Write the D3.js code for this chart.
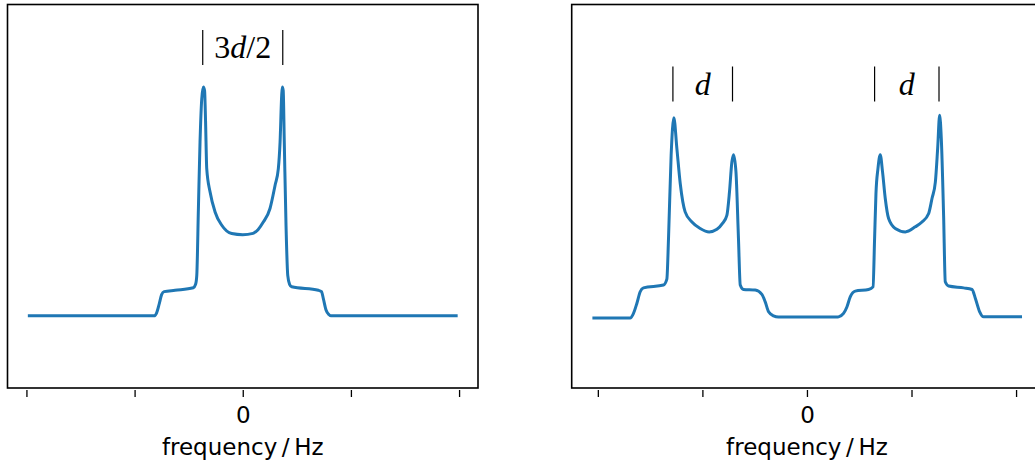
<!DOCTYPE html>
<html>
<head>
  <meta charset="utf-8">
  <title>Powder pattern spectra</title>
  <script src="https://d3js.org/d3.v7.min.js"></script>
  <style>
    body { margin: 0; background: #fff; }
    .frame { fill: none; stroke: #000; stroke-width: 1.6px; }
    .spectrum { fill: none; stroke: #1f77b4; stroke-width: 3px; stroke-linejoin: round; }
    .marker { stroke: #000; stroke-width: 1.2px; }
    .tick line { stroke: #000; stroke-width: 1.3px; }
    .tick text, .xlabel { font-family: "DejaVu Sans", sans-serif; font-size: 23px; fill: #000; }
    .math { font-family: "Liberation Serif", serif; font-size: 32px; fill: #000; }
  </style>
</head>
<body>
  <script>
    // left panel: single Pake-like doublet
    const leftFreq = [-1.987, -0.820, -0.797, -0.771, -0.750, -0.727, -0.626, -0.457, -0.436, -0.425,
      -0.410, -0.395, -0.379, -0.364, -0.353, -0.344, -0.333, -0.302, -0.256, -0.194, -0.102, 0,
      0.095, 0.141, 0.190, 0.252, 0.299, 0.329, 0.345, 0.360, 0.366, 0.374, 0.384, 0.400, 0.416,
      0.433, 0.453, 0.699, 0.728, 0.745, 0.770, 0.798, 0.816, 1.987];
    const leftIntensity = [0, 0, 0.012, 0.054, 0.092, 0.105, 0.111, 0.122, 0.137, 0.176,
      0.466, 0.754, 0.942, 0.993, 0.978, 0.848, 0.639, 0.537, 0.451, 0.393, 0.357, 0.352,
      0.358, 0.374, 0.407, 0.466, 0.567, 0.639, 0.754, 0.957, 0.993, 0.978, 0.754, 0.393, 0.176,
      0.137, 0.126, 0.111, 0.105, 0.075, 0.025, 0.005, 0, 0];

    // right panel: two split doublets
    const rightFreq = [-2.052, -1.691, -1.659, -1.627, -1.595, -1.564, -1.372, -1.340, -1.324, -1.299,
      -1.273, -1.244, -1.212, -1.165, -1.100, -1.021, -0.935, -0.861, -0.808, -0.766, -0.741,
      -0.718, -0.702, -0.679, -0.655, -0.638, -0.607, -0.495, -0.431, -0.399, -0.367, -0.320,
      -0.272, 0.287, 0.302, 0.350, 0.383, 0.414, 0.462, 0.589, 0.632, 0.647, 0.660, 0.679, 0.701,
      0.723, 0.749, 0.781, 0.845, 0.941, 1.036, 1.100, 1.164, 1.196, 1.228, 1.250, 1.269, 1.285,
      1.307, 1.323, 1.355, 1.499, 1.579, 1.611, 1.652, 1.690, 2.057];
    const rightIntensity = [0, 0, 0.023, 0.072, 0.130, 0.149, 0.163, 0.192, 0.393, 0.803,
      0.988, 0.836, 0.664, 0.524, 0.474, 0.442, 0.425, 0.438, 0.467, 0.507, 0.622,
      0.770, 0.806, 0.721, 0.393, 0.163, 0.141, 0.138, 0.117, 0.080, 0.031, 0.011,
      0.005, 0.005, 0.006, 0.023, 0.056, 0.105, 0.133, 0.141, 0.154, 0.393, 0.614, 0.737, 0.806,
      0.721, 0.590, 0.491, 0.442, 0.425, 0.450, 0.474, 0.516, 0.590, 0.671, 0.836, 1.000, 0.885,
      0.507, 0.179, 0.158, 0.149, 0.141, 0.097, 0.031, 0.006, 0.006];

    const tickValues = [-2, -1, 0, 1, 2];
    const tickLabels = ["", "", "0", "", ""];
    const xLabel = "frequency\u2009/\u2009Hz";

    // splitting markers (frequency positions of the vertical bars)
    const leftMarkers = [-0.370, 0.370];
    const rightMarkers = [-1.282, -0.712, 0.647, 1.263];

    const width = 1035;
    const height = 466;

    const svg = d3.select("body").append("svg")
      .attr("width", width)
      .attr("height", height);

    const line = (x, y) => d3.line()
      .x(d => x(d[0]))
      .y(d => y(d[1]))
      .curve(d3.curveMonotoneX);

    function drawPanel(p) {
      const x = d3.scaleLinear().domain(p.xDomain).range([p.left, p.left + 470.5]);
      const y = d3.scaleLinear().domain(p.yDomain).range([388, 4.5]);
      const g = svg.append("g");

      const pts = p.freq.map((f, i) => [f, p.intensity[i]]);
      g.append("path")
        .attr("class", "spectrum")
        .attr("d", line(x, y)(pts));

      g.append("rect")
        .attr("class", "frame")
        .attr("x", p.left)
        .attr("y", 4.5)
        .attr("width", 470.5)
        .attr("height", 383.5);

      const axis = d3.axisBottom(x)
        .tickValues(tickValues)
        .tickFormat((d, i) => tickLabels[i])
        .tickSizeInner(7)
        .tickSizeOuter(0)
        .tickPadding(10);
      const ax = g.append("g")
        .attr("transform", "translate(0,390)")
        .call(axis);
      ax.select(".domain").remove();
      ax.selectAll(".tick text").attr("font-size", null).attr("font-family", null);

      g.append("text")
        .attr("class", "xlabel")
        .attr("x", x(0))
        .attr("y", 455)
        .attr("text-anchor", "middle")
        .text(xLabel);

      // vertical bars marking the splitting
      g.selectAll(".marker")
        .data(p.markers)
        .enter().append("line")
        .attr("class", "marker")
        .attr("x1", d => x(d)).attr("x2", d => x(d))
        .attr("y1", p.markTop).attr("y2", p.markTop + 35);

      // labels between pairs of bars
      for (let k = 0; k < p.markers.length; k += 2) {
        const cx = (x(p.markers[k]) + x(p.markers[k + 1])) / 2;
        const t = g.append("text")
          .attr("class", "math")
          .attr("x", cx)
          .attr("y", p.markTop + 28)
          .attr("text-anchor", "middle");
        p.label.forEach(part => {
          t.append("tspan")
            .attr("font-style", part.italic ? "italic" : "normal")
            .text(part.s);
        });
      }
    }

    drawPanel({
      left: 7.5,
      xDomain: [-2.175, 2.175],
      yDomain: [-0.313, 1.351],
      freq: leftFreq,
      intensity: leftIntensity,
      markers: leftMarkers,
      markTop: 30,
      label: [{ s: "3" }, { s: "d", italic: true }, { s: "/2" }]
    });

    drawPanel({
      left: 571.7,
      xDomain: [-2.25, 2.25],
      yDomain: [-0.345, 1.547],
      freq: rightFreq,
      intensity: rightIntensity,
      markers: rightMarkers,
      markTop: 66.5,
      label: [{ s: "d", italic: true }]
    });
  </script>
</body>
</html>
